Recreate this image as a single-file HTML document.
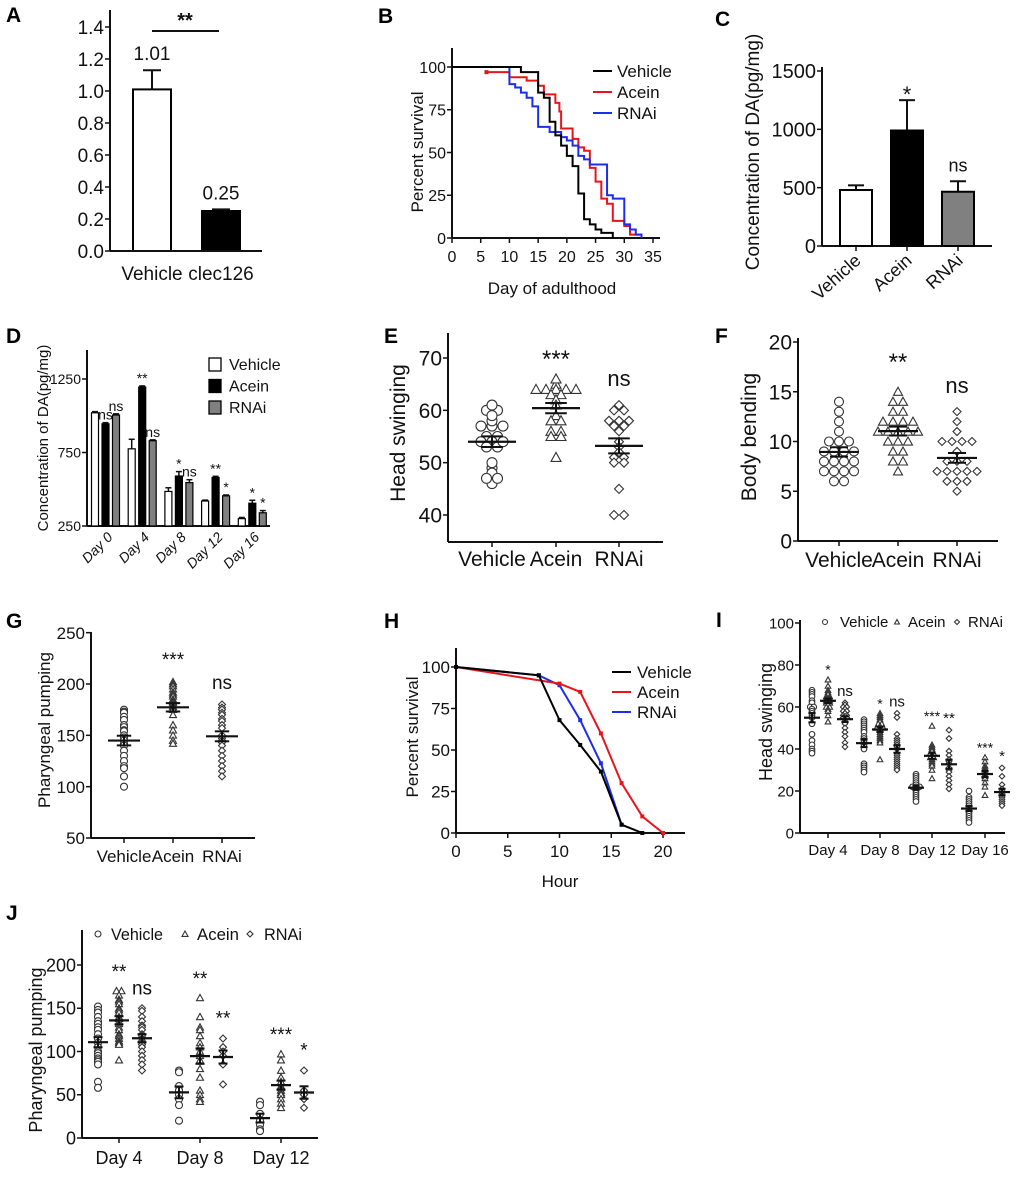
<!DOCTYPE html>
<html><head><meta charset="utf-8">
<style>
html,body{margin:0;padding:0;background:#fff;}
svg{display:block;font-family:"Liberation Sans",sans-serif;}
</style></head>
<body>
<svg id="fig" width="1020" height="1179" viewBox="0 0 1020 1179" xmlns="http://www.w3.org/2000/svg"></svg>
<script>
// ---------- data ----------
const aCats=['Vehicle','clec126'];
const aVals=[1.01,0.25];
const aErr=[0.12,0.01];
const aLabels=['1.01','0.25'];

const bVehT=[12,15,16,17,18,19,20,21,22,23,24,25,26,28];
const bVehS=[97,85,82,68,60,54,48,42,26,11,8,5,3,0];
const bAceT=[10,13,15,16,18,18.7,19,21,22,23,24,25,26,27,28,30,31,33];
const bAceS=[94,92,89,84,79,74,64,58,53,51,41,33,23,20,10,7,2,0];
const bRnaT=[10,11,12,13,14,15,17,19,20,21,22,23,24,27,28,30,31,32,33];
const bRnaS=[90,88,85,82,77,65,62,59,57,54,48,46,43,25,23,8,5,2,0];

const cCats=['Vehicle','Acein','RNAi'];
const cVals=[480,990,465];
const cErr=[40,260,90];
const cSig=['','*','ns'];

const dDays=['Day 0','Day 4','Day 8','Day 12','Day 16'];
const dVeh=[1020,775,485,420,300];
const dVehErr=[8,65,25,6,8];
const dAce=[945,1195,590,580,405];
const dAceErr=[8,8,30,8,20];
const dRna=[1005,830,545,455,340];
const dRnaErr=[8,6,20,6,15];
const dSigAce=['ns','**','*','**','*'];
const dSigRna=['ns','ns','ns','*','*'];

const eVeh=[60,60,61,57,57,58,59,57,55,55,54,54,53,53,54,49,50,48,46,47,47];
const eAce=[65,66,64,64,64,64,64,63,63,62,61,59,58,58,56,56,55,55,51];
const eRna=[60,60,61,58,58,58,57,57,56,54,53,52,51,51,50,50,45,40,40];

const fVeh=[14,13,12,11,10,10,10,9,9,9,9,8,8,8,8,7,7,7,7,6,6];
const fAce=[15,14,14,13,13,12,12,12,12,11,11,11,11,11,10,10,10,9,9,8,8,7];
const fRna=[13,12,11,10,10,10,10,9,8,8,8,7,7,7,7,7,6,6,6,5];

const gVeh=[175,173,172,168,165,160,158,155,154,150,148,145,142,140,135,130,125,120,118,110,100];
const gAce=[202,200,198,195,192,190,188,185,183,182,180,178,176,175,170,160,155,150,145,142];
const gRna=[180,177,175,172,170,166,164,160,157,150,147,145,143,140,135,130,125,120,115,110];

const hTime=[0,8,10,12,14,16,18,20];
const hVeh=[100,95,68,53,37,5,0,null];
const hAce=[100,null,90,85,60,30,10,0];
const hRna=[100,95,89,68,42,5,null,null];

const iDays=['Day 4','Day 8','Day 12','Day 16'];
const iVeh=[[68,67,66,65,63,62,60,60,59,58,57,56,55,52,47,44,42,40,39,38],[54,53,52,51,50,49,48,46,45,44,43,42,41,40,33,32,31,30,29],[28,27,26,25,24,23,22,22,22,21,20,19,18,17,16,15],[20,17,16,15,14,13,12,11,10,9,8,7,6,5]];
const iAce=[[73,70,68,67,66,65,65,64,64,63,63,62,62,61,60,60,59,58,56,53],[57,56,55,54,53,52,52,51,50,50,50,49,48,47,46,45,44,43,35],[51,42,41,40,39,38,38,37,36,36,35,34,33,32,30,26],[36,34,32,31,30,29,28,27,26,24,22,18]];
const iRna=[[62,61,60,60,59,58,58,57,56,56,55,55,54,53,52,50,48,46,43,41],[57,55,47,45,44,43,42,41,40,38,37,36,35,34,33,32,31,30],[49,45,39,37,35,34,33,31,30,29,27,25,23,21],[31,27,23,21,20,19,18,17,16,15,14,13]];
const iSigAce=['*','*','***','***'];
const iSigRna=['ns','ns','**','*'];

const jDays=['Day 4','Day 8','Day 12'];
const jVeh=[[152,148,145,140,135,132,128,125,120,115,110,105,100,98,95,92,90,88,85,65,58],[78,76,60,55,50,45,38,20],[42,38,28,20,15,10,8]];
const jAce=[[170,170,165,160,158,155,150,148,145,140,138,135,132,128,125,120,118,115,112,110,108,90],[162,140,128,125,118,110,105,100,95,90,80,70,55,50,45,42],[97,90,78,70,65,60,58,55,52,50,45,40,35]];
const jRna=[[150,147,140,135,130,128,125,120,118,115,112,110,108,105,100,95,90,85,78],[115,105,100,95,85,62],[78,55,50,45,35]];
const jSigAce=['**','**','***'];
const jSigRna=['ns','**','*'];

// ---------- helpers ----------
const NS='http://www.w3.org/2000/svg';
const svg=document.getElementById('fig');
function mk(tag,attrs,parent){const e=document.createElementNS(NS,tag);for(const k in attrs)e.setAttribute(k,attrs[k]);(parent||svg).appendChild(e);return e;}
function txt(p,x,y,s,size,anchor,name,extra){
  const t=mk('text',Object.assign({x:x,y:y,'font-size':size,'text-anchor':anchor||'middle',fill:'#111'},extra||{}),p);
  t.textContent=s;
  
  
  return t;
}
function lin(d0,d1,r0,r1){return v=>r0+(v-d0)*(r1-r0)/(d1-d0);}
function panel(name){
  const g=mk('g',{});
  
  
  return g;
}
function yAxis(p,x,sc,ticks,top,bottom,fs,name){
  const g=mk('g',{},p);
  
  
  mk('line',{x1:x,y1:top,x2:x,y2:bottom,stroke:'#111','stroke-width':2},g);
  ticks.forEach(t=>{
    const y=sc(t);
    mk('line',{x1:x-5,y1:y,x2:x,y2:y,stroke:'#111','stroke-width':1.5},g);
    txt(g,x-6,y+fs*0.36,String(t),fs,'end','y-tick-label');
  });
}
function xLine(p,x0,x1,y,name){
  const l=mk('line',{x1:x0,y1:y,x2:x1,y2:y,stroke:'#111','stroke-width':2},p);
  
  
}
function marker(p,shape,x,y,s){
  let e;
  if(shape==='c') e=mk('circle',{cx:x,cy:y,r:s,fill:'#fff',stroke:'#333','stroke-width':1.1},p);
  else if(shape==='t') e=mk('polygon',{points:`${x},${y-s} ${x-s},${y+s*0.8} ${x+s},${y+s*0.8}`,fill:'#fff',stroke:'#333','stroke-width':1.1},p);
  else e=mk('polygon',{points:`${x},${y-s} ${x+s},${y} ${x},${y+s} ${x-s},${y}`,fill:'#fff',stroke:'#333','stroke-width':1.1},p);
  
  
}
function scatter(p,vals,cx,sc,shape,s,sp,hw,name){
  const g=mk('g',{},p);
  
  
  const cnt={},idx={};
  vals.forEach(v=>{cnt[v]=(cnt[v]||0)+1;});
  vals.forEach(v=>{idx[v]=(idx[v]||0);const k=idx[v]++;const x=cx+(k-(cnt[v]-1)/2)*sp;marker(g,shape,x,sc(v),s);});
  const n=vals.length,m=vals.reduce((a,b)=>a+b,0)/n;
  const sd=Math.sqrt(vals.reduce((a,b)=>a+(b-m)*(b-m),0)/(n-1)),se=sd/Math.sqrt(n);
  mk('line',{x1:cx-hw,y1:sc(m),x2:cx+hw,y2:sc(m),stroke:'#111','stroke-width':2.2},g);
  mk('line',{x1:cx,y1:sc(m+se),x2:cx,y2:sc(m-se),stroke:'#111','stroke-width':2},g);
  mk('line',{x1:cx-hw*0.45,y1:sc(m+se),x2:cx+hw*0.45,y2:sc(m+se),stroke:'#111','stroke-width':2},g);
  mk('line',{x1:cx-hw*0.45,y1:sc(m-se),x2:cx+hw*0.45,y2:sc(m-se),stroke:'#111','stroke-width':2},g);
}
function letter(s,x,y){
  txt(svg,x,y,s,21,'start','panel-label-'+s.toLowerCase(),{'font-weight':'bold',fill:'#000'});
}
function vLabel(p,x,y,s,fs,name){
  txt(p,x,y,s,fs,'middle',name,{transform:`rotate(-90 ${x} ${y})`});
}

// ---------- Panel A ----------
letter('A',6,22);
(function(){
  const p=panel('panel-a');
  const y=lin(0,1,251,91);
  yAxis(p,110,y,[0.0,0.2,0.4,0.6,0.8,1.0,1.2,1.4],10,251,19,'y-axis');
  p.querySelectorAll('text').forEach((t,i)=>{t.textContent=(i*0.2).toFixed(1);});
  const cx=[152,221],w=38;
  aVals.forEach((v,i)=>{
    const er=mk('line',{x1:cx[i],y1:y(v),x2:cx[i],y2:y(v+aErr[i]),stroke:'#111','stroke-width':2},p);
    
    
    mk('line',{x1:cx[i]-9,y1:y(v+aErr[i]),x2:cx[i]+9,y2:y(v+aErr[i]),stroke:'#111','stroke-width':2},p);
    const r=mk('rect',{x:cx[i]-w/2,y:y(v),width:w,height:y(0)-y(v),fill:i?'#000':'#fff',stroke:'#000','stroke-width':2},p);
    
    
    txt(p,cx[i],y(v+aErr[i])-10,aLabels[i],19,'middle','value-label');
    txt(p,cx[i],280,aCats[i],19,'middle','x-tick-label');
  });
  xLine(p,110,262,251,'x-axis');
  const s=mk('line',{x1:152,y1:31,x2:219,y2:31,stroke:'#111','stroke-width':2},p);
  
  
  txt(p,185,27,'**',20,'middle','significance-stars',{'font-weight':'bold'});
})();

// ---------- Panel B ----------
letter('B',378,23);
(function(){
  const p=panel('panel-b');
  const x=lin(0,35,452,653),y=lin(0,100,238,67);
  yAxis(p,452,y,[0,25,50,75,100],48,238,16,'y-axis');
  xLine(p,452,660,238,'x-axis');
  [0,5,10,15,20,25,30,35].forEach(t=>{
    mk('line',{x1:x(t),y1:238,x2:x(t),y2:243,stroke:'#111','stroke-width':1.5},p);
    txt(p,x(t),262,String(t),16,'middle','x-tick-label');
  });
  txt(p,552,294,'Day of adulthood',17,'middle','x-axis-title');
  vLabel(p,423,152,'Percent survival',17,'y-axis-title');
  function km(T,S,t0,s0,col,name){
    let d=`M${x(t0)},${y(s0)}`;
    T.forEach((t,i)=>{d+=` H${x(t)} V${y(S[i])}`;});
    const pa=mk('path',{d:d,fill:'none',stroke:col,'stroke-width':2},p);
    
    
  }
  km(bAceT,bAceS,6,97,'#e8141c','survival-curve-acein');
  km(bRnaT,bRnaS,0,100,'#1c2ee8','survival-curve-rnai');
  km(bVehT,bVehS,0,100,'#000','survival-curve-vehicle');
  mk('rect',{x:x(6)-2,y:y(97)-2,width:4,height:4,fill:'#e8141c'},p);
  const leg=[['Vehicle','#000'],['Acein','#e8141c'],['RNAi','#1c2ee8']];
  leg.forEach((l,i)=>{
    const ly=71+i*21;
    const ln=mk('line',{x1:593,y1:ly,x2:612,y2:ly,stroke:l[1],'stroke-width':2},p);
    
    
    txt(p,617,ly+6,l[0],17,'start','legend-entry');
  });
})();

// ---------- Panel C ----------
letter('C',715,26);
(function(){
  const p=panel('panel-c');
  const y=lin(0,1500,246,71);
  yAxis(p,822,y,[0,500,1000,1500],67,246,20,'y-axis');
  xLine(p,822,992,246,'x-axis');
  const cx=[856,907,958],fills=['#fff','#000','#808080'];
  cVals.forEach((v,i)=>{
    mk('line',{x1:cx[i],y1:y(v),x2:cx[i],y2:y(v+cErr[i]),stroke:'#111','stroke-width':2},p);
    mk('line',{x1:cx[i]-8,y1:y(v+cErr[i]),x2:cx[i]+8,y2:y(v+cErr[i]),stroke:'#111','stroke-width':2},p);
    const r=mk('rect',{x:cx[i]-16,y:y(v),width:32,height:y(0)-y(v),fill:fills[i],stroke:'#000','stroke-width':2},p);
    
    
    if(cSig[i]) txt(p,cx[i],y(v+cErr[i])-(cSig[i]==='*'?-2:10),cSig[i],cSig[i]==='*'?22:18,'middle','significance-label');
    mk('line',{x1:cx[i],y1:246,x2:cx[i],y2:251,stroke:'#111','stroke-width':1.5},p);
    txt(p,cx[i]+6,262,cCats[i],18,'end','x-tick-label',{transform:`rotate(-42 ${cx[i]+6} 262)`});
  });
  vLabel(p,759,152,'Concentration of DA(pg/mg)',19,'y-axis-title');
})();

// ---------- Panel D ----------
letter('D',6,343);
(function(){
  const p=panel('panel-d');
  const y=lin(250,1250,526,379);
  yAxis(p,87,y,[250,750,1250],350,526,14,'y-axis');
  xLine(p,87,270,526,'x-axis');
  const series=[[dVeh,dVehErr,'#fff','vehicle'],[dAce,dAceErr,'#000','acein'],[dRna,dRnaErr,'#808080','rnai']];
  dDays.forEach((d,i)=>{
    series.forEach((s,j)=>{
      const cx=95+36.7*i+10.5*j,v=s[0][i],e=s[1][i];
      mk('line',{x1:cx,y1:y(v),x2:cx,y2:y(v+e),stroke:'#111','stroke-width':1.5},p);
      mk('line',{x1:cx-3,y1:y(v+e),x2:cx+3,y2:y(v+e),stroke:'#111','stroke-width':1.5},p);
      const r=mk('rect',{x:cx-3.5,y:y(v),width:7,height:y(250)-y(v),fill:s[2],stroke:'#000','stroke-width':1.2},p);
      
      
      if(j===1) txt(p,cx,y(v+e)-3,dSigAce[i],14,'middle','significance-label');
      if(j===2) txt(p,cx,y(v+e)-3,dSigRna[i],14,'middle','significance-label');
    });
    const gx=105.5+36.7*i;
    txt(p,gx+8,538,d,14,'end','x-tick-label',{transform:`rotate(-45 ${gx+8} 538)`,'font-style':'italic'});
  });
  vLabel(p,48,438,'Concentration of DA(pg/mg)',15,'y-axis-title');
  [['Vehicle','#fff'],['Acein','#000'],['RNAi','#808080']].forEach((l,i)=>{
    const yy=358+i*21.5;
    const r=mk('rect',{x:209,y:yy,width:12,height:13,fill:l[1],stroke:'#000','stroke-width':1.3},p);
    
    
    txt(p,229,yy+12,l[0],16,'start','legend-entry');
  });
})();

// ---------- Panel E ----------
letter('E',384,343);
(function(){
  const p=panel('panel-e');
  const y=lin(40,70,515,358);
  yAxis(p,448,y,[40,50,60,70],333,542,21,'y-axis');
  xLine(p,448,663,542,'x-axis');
  const cx=[492,556,619];
  scatter(p,eVeh,cx[0],y,'c',5,11,24,'scatter-vehicle');
  scatter(p,eAce,cx[1],y,'t',5,10,24,'scatter-acein');
  scatter(p,eRna,cx[2],y,'d',4.5,10,24,'scatter-rnai');
  ['Vehicle','Acein','RNAi'].forEach((c,i)=>{
    mk('line',{x1:cx[i],y1:542,x2:cx[i],y2:547,stroke:'#111','stroke-width':1.5},p);
    txt(p,cx[i],566,c,21,'middle','x-tick-label');
  });
  txt(p,556,367,'***',24,'middle','significance-label');
  txt(p,619,386,'ns',22,'middle','significance-label');
  vLabel(p,405,433,'Head swinging',21,'y-axis-title');
})();

// ---------- Panel F ----------
letter('F',715,343);
(function(){
  const p=panel('panel-f');
  const y=lin(0,20,541,342);
  yAxis(p,798,y,[0,5,10,15,20],338,541,21,'y-axis');
  xLine(p,798,998,541,'x-axis');
  const cx=[839,898,957];
  scatter(p,fVeh,cx[0],y,'c',4.5,10,20,'scatter-vehicle');
  scatter(p,fAce,cx[1],y,'t',4.5,10,20,'scatter-acein');
  scatter(p,fRna,cx[2],y,'d',4,10,20,'scatter-rnai');
  ['Vehicle','Acein','RNAi'].forEach((c,i)=>{
    mk('line',{x1:cx[i],y1:541,x2:cx[i],y2:546,stroke:'#111','stroke-width':1.5},p);
    txt(p,cx[i],567,c,21,'middle','x-tick-label');
  });
  txt(p,898,370,'**',24,'middle','significance-label');
  txt(p,957,393,'ns',22,'middle','significance-label');
  vLabel(p,756,437,'Body bending',21,'y-axis-title');
})();

// ---------- Panel G ----------
letter('G',6,628);
(function(){
  const p=panel('panel-g');
  const y=lin(50,200,838,684);
  yAxis(p,91,y,[50,100,150,200,250],632,838,17,'y-axis');
  xLine(p,91,255,838,'x-axis');
  const cx=[124,173,222];
  scatter(p,gVeh,cx[0],y,'c',3.5,7,16,'scatter-vehicle');
  scatter(p,gAce,cx[1],y,'t',3.5,7,16,'scatter-acein');
  scatter(p,gRna,cx[2],y,'d',3.5,7,16,'scatter-rnai');
  ['Vehicle','Acein','RNAi'].forEach((c,i)=>{
    mk('line',{x1:cx[i],y1:838,x2:cx[i],y2:843,stroke:'#111','stroke-width':1.5},p);
    txt(p,cx[i],862,c,17,'middle','x-tick-label');
  });
  txt(p,173,666,'***',19,'middle','significance-label');
  txt(p,222,689,'ns',19,'middle','significance-label');
  vLabel(p,50,730,'Pharyngeal pumping',17,'y-axis-title');
})();

// ---------- Panel H ----------
letter('H',384,628);
(function(){
  const p=panel('panel-h');
  const x=lin(0,20,456,663),y=lin(0,100,833,667);
  yAxis(p,456,y,[0,25,50,75,100],648,833,17,'y-axis');
  xLine(p,456,685,833,'x-axis');
  [0,5,10,15,20].forEach(t=>{
    mk('line',{x1:x(t),y1:833,x2:x(t),y2:838,stroke:'#111','stroke-width':1.5},p);
    txt(p,x(t),857,String(t),17,'middle','x-tick-label');
  });
  txt(p,560,887,'Hour',17,'middle','x-axis-title');
  vLabel(p,418,737,'Percent survival',17,'y-axis-title');
  function ln(vals,col,name){
    const pts=[];hTime.forEach((t,i)=>{if(vals[i]!==null)pts.push([x(t),y(vals[i])]);});
    const pl=mk('polyline',{points:pts.map(q=>q.join(',')).join(' '),fill:'none',stroke:col,'stroke-width':2},p);
    
    
    pts.forEach(q=>{mk('rect',{x:q[0]-2,y:q[1]-2,width:4,height:4,fill:col},p);});
  }
  ln(hRna,'#1c2ee8','line-rnai');
  ln(hAce,'#e8141c','line-acein');
  ln(hVeh,'#000','line-vehicle');
  [['Vehicle','#000'],['Acein','#e8141c'],['RNAi','#1c2ee8']].forEach((l,i)=>{
    const ly=672+i*20;
    const s=mk('line',{x1:612,y1:ly,x2:631,y2:ly,stroke:l[1],'stroke-width':2},p);
    
    
    txt(p,637,ly+6,l[0],17,'start','legend-entry');
  });
})();

// ---------- Panel I ----------
letter('I',716,627);
(function(){
  const p=panel('panel-i');
  const y=lin(0,100,833,623);
  yAxis(p,800,y,[0,20,40,60,80,100],620,833,15,'y-axis');
  xLine(p,800,1005,833,'x-axis');
  const gc=[828,880,932,985];
  iDays.forEach((d,i)=>{
    scatter(p,iVeh[i],gc[i]-16,y,'c',2.8,3.5,8,'scatter-vehicle-'+d.replace(' ','').toLowerCase());
    scatter(p,iAce[i],gc[i],y,'t',2.8,3.5,8,'scatter-acein-'+d.replace(' ','').toLowerCase());
    scatter(p,iRna[i],gc[i]+17,y,'d',2.8,3.5,8,'scatter-rnai-'+d.replace(' ','').toLowerCase());
    const topA=Math.max(...iAce[i]),topR=Math.max(...iRna[i]);
    txt(p,gc[i],y(topA)-5,iSigAce[i],14,'middle','significance-label');
    txt(p,gc[i]+17,y(topR)-7,iSigRna[i],15,'middle','significance-label');
    mk('line',{x1:gc[i],y1:833,x2:gc[i],y2:838,stroke:'#111','stroke-width':1.5},p);
    txt(p,gc[i],855,d,15,'middle','x-tick-label');
  });
  vLabel(p,772,722,'Head swinging',18,'y-axis-title');
  [['c',825,'Vehicle',840],['t',897,'Acein',908],['d',957,'RNAi',968]].forEach(l=>{
    marker(p,l[0],l[1],622,2.5);
    txt(p,l[3],627,l[2],15,'start','legend-entry');
  });
})();

// ---------- Panel J ----------
letter('J',6,920);
(function(){
  const p=panel('panel-j');
  const y=lin(0,200,1138,965);
  yAxis(p,82,y,[0,50,100,150,200],930,1138,18,'y-axis');
  xLine(p,82,318,1138,'x-axis');
  const gc=[119,200,281];
  jDays.forEach((d,i)=>{
    scatter(p,jVeh[i],gc[i]-21,y,'c',3.5,5,10,'scatter-vehicle-'+d.replace(' ','').toLowerCase());
    scatter(p,jAce[i],gc[i],y,'t',3.5,5,10,'scatter-acein-'+d.replace(' ','').toLowerCase());
    scatter(p,jRna[i],gc[i]+23,y,'d',3.5,5,10,'scatter-rnai-'+d.replace(' ','').toLowerCase());
    const topA=Math.max(...jAce[i]),topR=Math.max(...jRna[i]);
    txt(p,gc[i],y(topA)-13,jSigAce[i],19,'middle','significance-label');
    txt(p,gc[i]+23,y(topR)-14,jSigRna[i],19,'middle','significance-label');
    mk('line',{x1:gc[i],y1:1138,x2:gc[i],y2:1143,stroke:'#111','stroke-width':1.5},p);
    txt(p,gc[i],1164,d,18,'middle','x-tick-label');
  });
  vLabel(p,42,1050,'Pharyngeal pumping',18,'y-axis-title');
  [['c',98,'Vehicle',111,52],['t',185,'Acein',197,42],['d',250,'RNAi',264,38]].forEach(l=>{
    marker(p,l[0],l[1],934,3);
    txt(p,l[3],940,l[2],17,'start','legend-entry',{textLength:l[4],lengthAdjust:'spacingAndGlyphs'});
  });
})();
</script>
</body></html>
